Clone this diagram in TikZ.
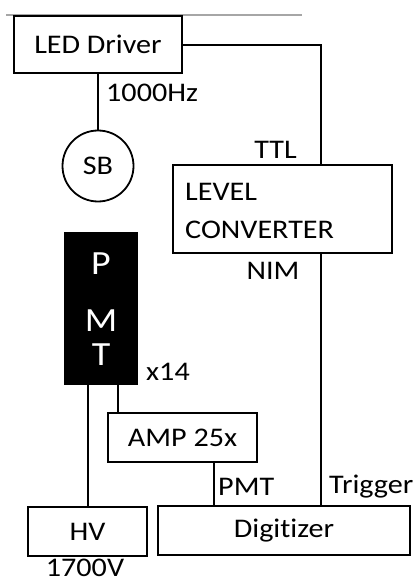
\documentclass[tikz,border=0pt]{standalone}
\usepackage{fontspec}
\setmainfont{Carlito}[FakeStretch=1.12,Ligatures=NoCommon]
\begin{document}
\begin{tikzpicture}[x=1bp,y=-1bp,
  box/.style={draw=black,line width=1.8bp,rectangle,inner sep=0pt,font=\fontsize{27}{32}\selectfont},
  wire/.style={draw=black,line width=1.8bp},
  lbl/.style={inner sep=0pt,font=\fontsize{27}{32}\selectfont},
  pmtl/.style={inner sep=0pt,text=white,font=\fontsize{34}{40}\selectfont}]
\useasboundingbox (0,0) rectangle (417,583);
\draw[gray!70,line width=1.4bp] (6,15) -- (302,15);
\node[box,minimum width=168bp,minimum height=57bp] (led) at (98,44.5) {LED Driver};
\node[box,circle,minimum size=71bp] (sb) at (98,166) {SB};
\node[box,minimum width=219bp,minimum height=88bp] (lc) at (282.5,209) {};
\node[lbl,anchor=west] (level) at (185,192) {LEVEL};
\node[lbl,anchor=west] (conv) at (185,230) {CONVERTER};
\node[box,fill=black,minimum width=72bp,minimum height=151bp] (pmt) at (101,308.5) {};
\node[pmtl] (p) at (101,264) {P};
\node[pmtl] (m) at (101,321) {M};
\node[pmtl] (t) at (101,355) {T};
\node[box,minimum width=149bp,minimum height=49bp] (amp) at (182.5,437.5) {AMP 25x};
\node[box,minimum width=119bp,minimum height=49bp] (hv) at (87.5,531.5) {HV};
\node[box,minimum width=252bp,minimum height=49bp] (dig) at (284,530.5) {Digitizer};
\node[lbl,anchor=west] (hz) at (106,93) {1000Hz};
\node[lbl,anchor=east] (ttl) at (297,150) {TTL};
\node[lbl] (nim) at (273,271) {NIM};
\node[lbl,anchor=west] (x14) at (146,372) {x14};
\node[lbl,anchor=west] (pmtlab) at (218,487) {PMT};
\node[lbl,anchor=west] (trig) at (329,487) {Trigger};
\node[lbl] (hvv) at (85,568) {1700V};
\coordinate (c1) at (321,45);
\draw[wire] (led.east |- c1) -- (c1) -- (c1 |- lc.north);
\draw[wire] (led.south) -- (sb.north);
\draw[wire] (lc.south -| c1) -- (dig.north -| c1);
\draw[wire] (pmt.south -| 88,0) -- (hv.north -| 88,0);
\draw[wire] (pmt.south -| 118,0) -- (amp.north -| 118,0);
\draw[wire] (amp.south -| 214,0) -- (dig.north -| 214,0);
\end{tikzpicture}
\end{document}
